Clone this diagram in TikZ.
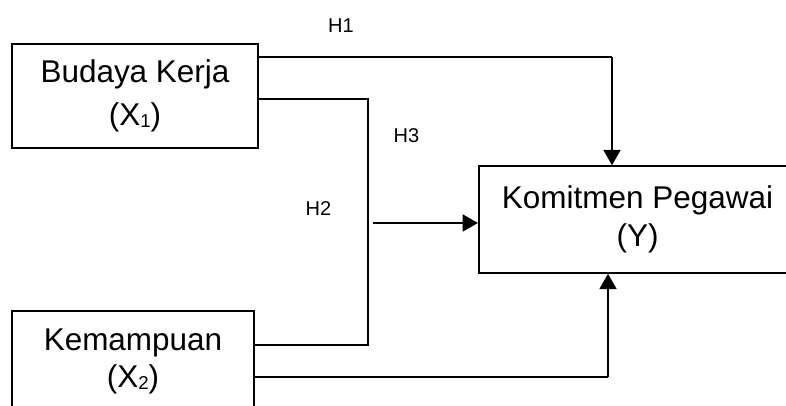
\documentclass[tikz,border=0pt]{standalone}
\usepackage{fontspec}
\setmainfont{Liberation Sans}
\usetikzlibrary{arrows.meta,positioning,calc}
\newcommand{\lowidx}[1]{\raisebox{-1.5pt}{\fontsize{14}{14}\selectfont #1}}
\tikzset{varbox/.style={draw,line width=1.3pt,align=center,inner sep=0pt,
    font=\fontsize{23.6}{29}\selectfont},
  link/.style={line width=0.8pt},
  flow/.style={-{Triangle[length=11.5pt,width=12.5pt]},line width=2pt},
  hyp/.style={font=\fontsize{15}{18}\selectfont,inner sep=0pt}}

\begin{document}
\begin{tikzpicture}[x=0.75pt,y=-0.75pt]
\useasboundingbox (0,0) rectangle (786,405);
\clip (0,0) rectangle (786,405);
\node[varbox,minimum width=184.5pt,minimum height=78pt,
  font=\fontsize{23.6}{35}\selectfont] (budaya) at (135,96)
 {\raisebox{-3pt}{Budaya Kerja}\\(X\lowidx{1})};
\node[varbox,minimum width=181.5pt,minimum height=76pt,
  font=\fontsize{23.6}{27.8}\selectfont] (kemampuan) at (133,361.5)
 {Kemampuan\\(X\lowidx{2})};
\node[varbox,minimum width=250pt,minimum height=80pt,anchor=west] (komitmen) at (478,219.5)
 {\hspace*{-12pt}Komitmen Pegawai\\\hspace*{-12pt}(Y)};
% turning points of the connectors
\coordinate (h1turn) at (612,57);
\coordinate (h2top) at (368,99);
\coordinate (h2bot) at (368,345);
\coordinate (h3start) at (373,223);
\coordinate (h4turn) at (608,377);
\draw[link] (budaya.east |- h1turn)--(h1turn);
\draw[flow] (h1turn)--(komitmen.north -| h1turn);
\draw[link] (budaya.east |- h2top)--(h2top)--(h2bot)--(kemampuan.east |- h2bot);
\draw[flow] (h3start)--(komitmen.west |- h3start);
\draw[link] (kemampuan.east |- h4turn)--(h4turn);
\draw[flow] (h4turn)--(komitmen.south -| h4turn);
\node[hyp] (h1) at (341,25.5) {H1};
\node[hyp] (h2) at (318.5,208.5) {H2};
\node[hyp] (h3) at (406.5,135.5) {H3};
\end{tikzpicture}
\end{document}
